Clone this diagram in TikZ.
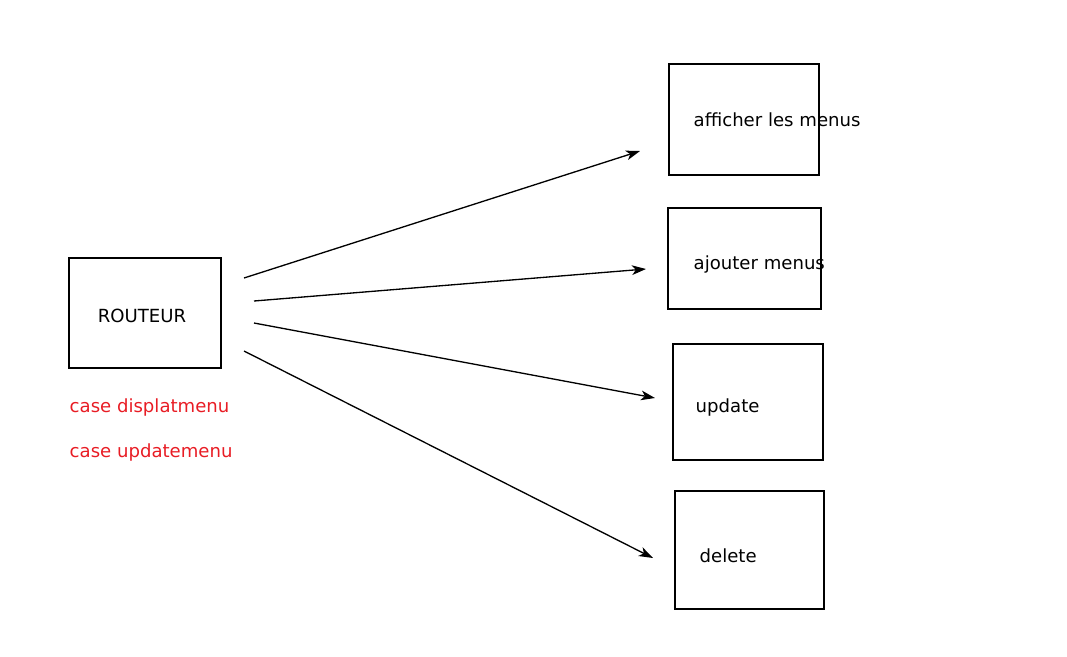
\documentclass[tikz,border=0pt]{standalone}
\usepackage{fontspec}
\setmainfont{DejaVu Sans}
\usepackage{xcolor}
\usepackage{tikz}
\usetikzlibrary{
  arrows.meta,
  positioning
}
\definecolor{casered}{RGB}{232,28,36}

\begin{document}
\begin{tikzpicture}[x=0.02cm,y=-0.02cm,font=\fontsize{10.3}{12}\selectfont,line width=0.8pt,
  box/.style={rectangle,draw=black,inner sep=0pt},
  label/.style={anchor=west,inner sep=0pt},
  >={Stealth[length=8pt,width=5.5pt,inset=2.2pt]}]
  \useasboundingbox (0,0) rectangle (1067,656);
  % routeur
  \node[box,minimum width=3.04cm,minimum height=2.2cm] (0) at (145,313) {};
  \node[inner sep=0pt] (1) at (142,316) {ROUTEUR};
  \node[label,text=casered] (2) at (69,407) {case displatmenu};
  \node[label,text=casered] (3) at (69,452) {case updatemenu};
  % actions
  \node[box,minimum width=3cm,minimum height=2.22cm] (4) at (744,119.5) {};
  \node[label] (5) at (693,120) {afficher les menus};
  \node[box,minimum width=3.06cm,minimum height=2.02cm] (6) at (744.5,258.5) {};
  \node[label] (7) at (693,265) {ajouter menus};
  \node[box,minimum width=3cm,minimum height=2.32cm] (8) at (748,402) {};
  \node[label] (9) at (695,407) {update};
  \node[box,minimum width=2.98cm,minimum height=2.36cm] (10) at (749.5,550) {};
  \node[label] (11) at (699,556) {delete};
  % arrow ends
  \coordinate (a1) at (244,278);
  \coordinate (a2) at (254,301);
  \coordinate (a3) at (254,323);
  \coordinate (a4) at (244,351);
  \coordinate (b1) at (640,151);
  \coordinate (b2) at (646,269);
  \coordinate (b3) at (655,398);
  \coordinate (b4) at (653,558);
  \draw[->,line width=0.75pt] (a1) -- (b1);
  \draw[->,line width=0.75pt] (a2) -- (b2);
  \draw[->,line width=0.75pt] (a3) -- (b3);
  \draw[->,line width=0.75pt] (a4) -- (b4);
\end{tikzpicture}
\end{document}
